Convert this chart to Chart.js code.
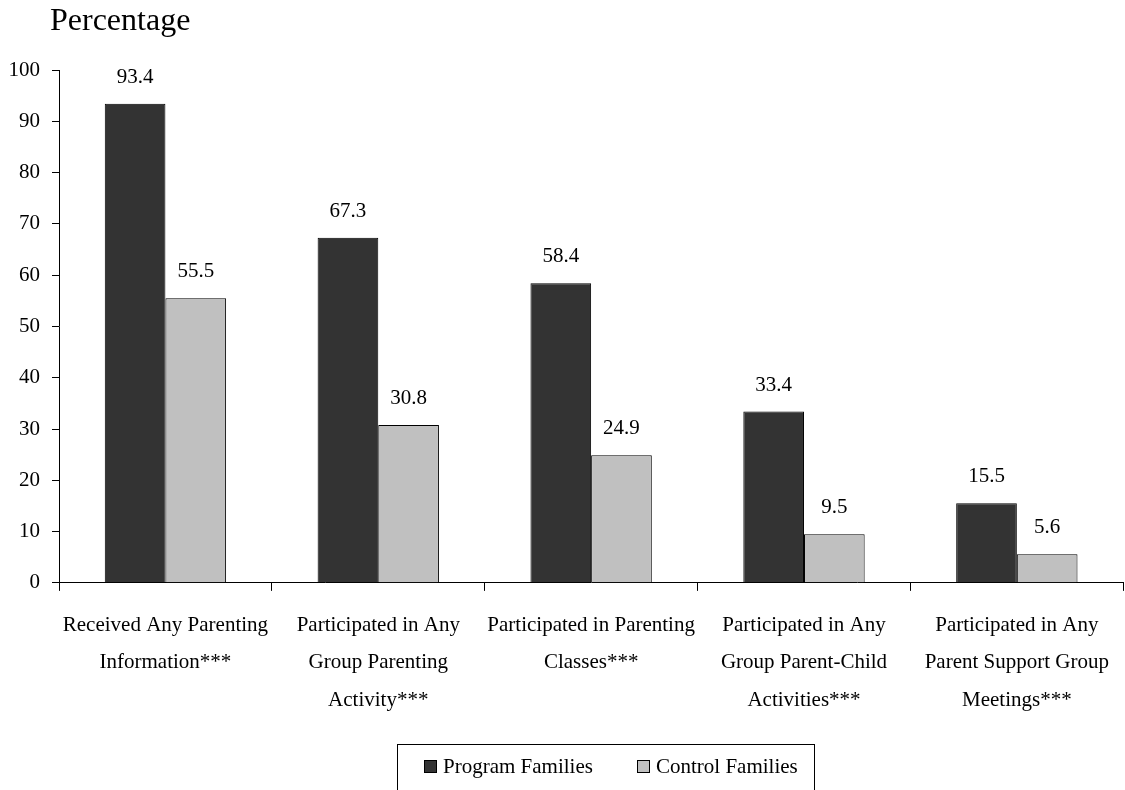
<!DOCTYPE html>
<html>
<head>
<meta charset="utf-8">
<script src="https://cdn.jsdelivr.net/npm/chart.js@4/dist/chart.umd.min.js"></script>
<style>
  html, body { margin: 0; padding: 0; background: #fff; }
  #wrap { width: 1125px; height: 790px; position: relative; }
</style>
</head>
<body>
<div id="wrap"><canvas id="chart"></canvas></div>
<script>
const categories = [
  ['Received Any Parenting', 'Information***'],
  ['Participated in Any', 'Group Parenting', 'Activity***'],
  ['Participated in Parenting', 'Classes***'],
  ['Participated in Any', 'Group Parent-Child', 'Activities***'],
  ['Participated in Any', 'Parent Support Group', 'Meetings***']
];
const programFamilies = [93.4, 67.3, 58.4, 33.4, 15.5];
const controlFamilies = [55.5, 30.8, 24.9, 9.5, 5.6];
const seriesNames = ['Program Families', 'Control Families'];
const seriesColors = ['#333333', '#c0c0c0'];
const yTitle = 'Percentage';

const FONT = "'Liberation Serif', 'Times New Roman', serif";

// value labels above each bar
const barValues = {
  id: 'barValues',
  afterDatasetsDraw(chart) {
    const ctx = chart.ctx;
    ctx.save();
    ctx.font = '21px ' + FONT;
    ctx.fillStyle = '#000';
    ctx.textAlign = 'center';
    ctx.textBaseline = 'alphabetic';
    chart.data.datasets.forEach((ds, i) => {
      chart.getDatasetMeta(i).data.forEach((bar, j) => {
        ctx.fillText(ds.data[j].toFixed(1), bar.x, bar.y - 21);
      });
    });
    ctx.restore();
  }
};

// axis caption top-left and boxed legend at the bottom
const extras = {
  id: 'extras',
  afterDraw(chart) {
    const ctx = chart.ctx;
    const area = chart.chartArea;
    ctx.save();
    ctx.fillStyle = '#000';
    ctx.font = '32px ' + FONT;
    ctx.textAlign = 'left';
    ctx.textBaseline = 'alphabetic';
    ctx.fillText(yTitle, area.left - 9, 30);

    // legend
    const boxLeft = 397, boxTop = 744, boxRight = 814;
    ctx.strokeStyle = '#000';
    ctx.lineWidth = 1;
    ctx.strokeRect(boxLeft + 0.5, boxTop + 0.5, boxRight - boxLeft, 80);
    ctx.font = '21px ' + FONT;
    ctx.textBaseline = 'middle';
    const starts = [424, 637];
    chart.data.datasets.forEach((ds, i) => {
      const x = starts[i];
      ctx.fillStyle = ds.backgroundColor;
      ctx.fillRect(x, 760, 13, 13);
      ctx.strokeStyle = '#000';
      ctx.strokeRect(x + 0.5, 760.5, 12, 12);
      ctx.fillStyle = '#000';
      ctx.fillText(ds.label, x + 19, 767);
    });
    ctx.restore();
  }
};

new Chart(document.getElementById('chart'), {
  type: 'bar',
  data: {
    labels: categories,
    datasets: [
      {
        label: seriesNames[0],
        data: programFamilies,
        backgroundColor: seriesColors[0],
        borderColor: '#000',
        borderWidth: 1,
        categoryPercentage: 0.57,
        barPercentage: 1.0
      },
      {
        label: seriesNames[1],
        data: controlFamilies,
        backgroundColor: seriesColors[1],
        borderColor: '#000',
        borderWidth: 1,
        categoryPercentage: 0.57,
        barPercentage: 1.0
      }
    ]
  },
  options: {
    responsive: true,
    maintainAspectRatio: false,
    animation: false,
    layout: { padding: { left: 0, right: 0, top: 70, bottom: 55 } },
    plugins: {
      legend: { display: false },
      title: { display: false },
      tooltip: { enabled: false }
    },
    scales: {
      x: {
        grid: {
          drawOnChartArea: false,
          drawTicks: true,
          tickLength: 8,
          color: '#000',
          offset: true
        },
        border: { color: '#000', width: 1 },
        ticks: {
          color: '#000',
          font: { family: FONT, size: 21, lineHeight: 1.78 },
          padding: 16,
          maxRotation: 0,
          autoSkip: false
        }
      },
      y: {
        min: 0,
        max: 100,
        afterFit(scale) { scale.width = 59; },
        grid: {
          drawOnChartArea: false,
          drawTicks: true,
          tickLength: 7,
          color: '#000'
        },
        border: { color: '#000', width: 1 },
        ticks: {
          stepSize: 10,
          color: '#000',
          font: { family: FONT, size: 21 },
          padding: 12
        }
      }
    }
  },
  plugins: [barValues, extras]
});
</script>
</body>
</html>
